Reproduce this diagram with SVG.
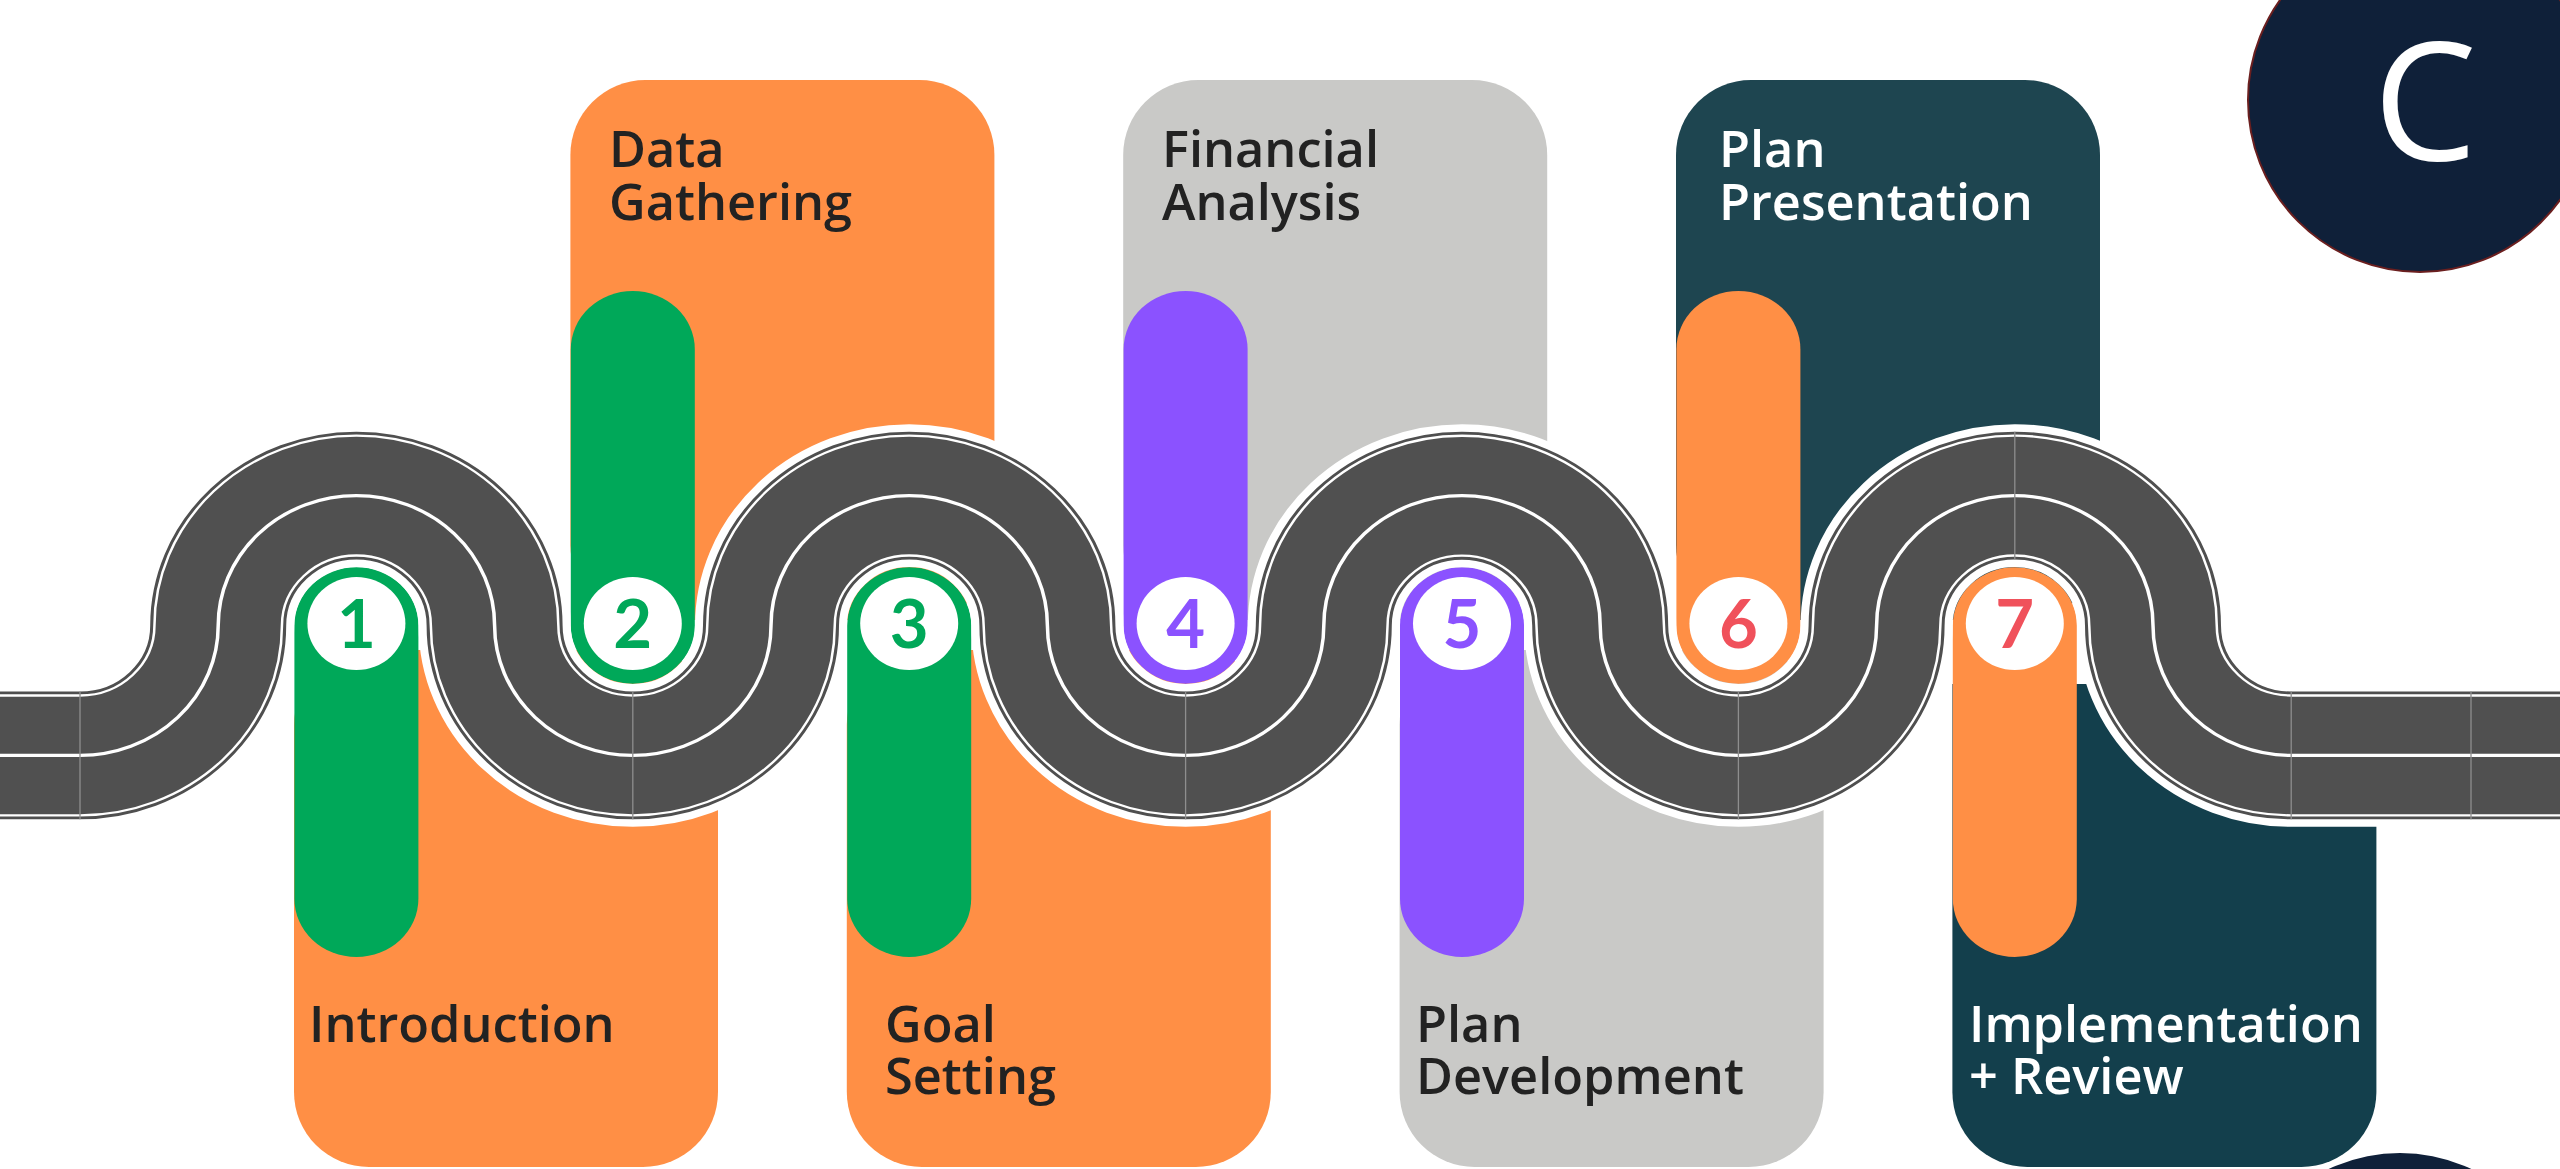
<svg xmlns="http://www.w3.org/2000/svg" width="2560" height="1169" viewBox="0 0 2560 1169">
  <defs>
    <style>
      .orange { fill: #FF8F45; }
      .grey { fill: #C9C9C7; }
      .tealTop { fill: #1E4550; }
      .tealBot { fill: #133F4C; }
      .green { fill: #00A859; }
      .purple { fill: #8B52FF; }
      .disc { fill: #FFFFFF; }
      .num { font-family: Lato, "Open Sans", "DejaVu Sans", sans-serif; font-weight: 700; font-size: 67px; text-anchor: middle; }
      .numGreen { fill: #00A859; }
      .numPurple { fill: #8B52FF; }
      .numRed { fill: #F0515B; }
      .label { font-family: "Open Sans", "Liberation Sans", sans-serif; font-weight: 600; font-size: 50.5px; fill: #222222; }
      .labelLight { fill: #FFFFFF; }
      .logo { fill: #0F2039; stroke: #6B1F1F; stroke-width: 2; }
      .road { fill: none; }
      .seam { stroke: #8E8E8E; stroke-width: 1.3; }
    </style>
    <!-- centre line of the winding road (arc centres on y=625.5, radius 138.2) -->
    <path id="roadLine" d="M -20 763.7 L 80 763.7 A 138.2 138.2 0 0 0 218.2 625.5 A 138.2 138.2 0 0 1 494.6 625.5 A 138.2 138.2 0 0 0 771 625.5 A 138.2 138.2 0 0 1 1047.4 625.5 A 138.2 138.2 0 0 0 1323.8 625.5 A 138.2 138.2 0 0 1 1600.2 625.5 A 138.2 138.2 0 0 0 1876.6 625.5 A 138.2 138.2 0 0 1 2153 625.5 A 138.2 138.2 0 0 0 2291.2 763.7 L 2580 763.7"/>
  </defs>

  <rect width="2560" height="1169" fill="#FFFFFF"/>

  <!-- steps: card, marker pill, number disc and caption -->
  <g id="step-1">
    <rect class="orange" x="294" y="650" width="424" height="517" rx="75" ry="75"/>
    <rect class="green" x="294.4" y="567.2" width="124" height="389.8" rx="62" ry="58.3"/>
    <ellipse class="disc" cx="356.4" cy="623.5" rx="49" ry="46.5"/>
    <text class="num numGreen" x="356.4" y="647.5">1</text>
    <text class="label" x="309" y="1042">Introduction</text>
  </g>

  <g id="step-2">
    <rect class="orange" x="570.4" y="80" width="424" height="540" rx="75" ry="75"/>
    <rect class="green" x="570.8" y="291" width="124" height="392.8" rx="62" ry="58.3"/>
    <ellipse class="disc" cx="632.8" cy="623.5" rx="49" ry="46.5"/>
    <text class="num numGreen" x="632.8" y="647.5">2</text>
    <text class="label" x="609" y="166.5">Data</text>
    <text class="label" x="609" y="220">Gathering</text>
  </g>

  <g id="step-3">
    <rect class="orange" x="846.8" y="650" width="424" height="517" rx="75" ry="75"/>
    <rect class="green" x="847.2" y="567.2" width="124" height="389.8" rx="62" ry="58.3"/>
    <ellipse class="disc" cx="909.2" cy="623.5" rx="49" ry="46.5"/>
    <text class="num numGreen" x="909.2" y="647.5">3</text>
    <text class="label" x="885" y="1042">Goal</text>
    <text class="label" x="885" y="1094">Setting</text>
  </g>

  <g id="step-4">
    <rect class="grey" x="1123.2" y="80" width="424" height="540" rx="75" ry="75"/>
    <rect class="purple" x="1123.6" y="291" width="124" height="392.8" rx="62" ry="58.3"/>
    <ellipse class="disc" cx="1185.6" cy="623.5" rx="49" ry="46.5"/>
    <text class="num numPurple" x="1185.6" y="647.5">4</text>
    <text class="label" x="1162" y="166.5">Financial</text>
    <text class="label" x="1162" y="220">Analysis</text>
  </g>

  <g id="step-5">
    <rect class="grey" x="1399.6" y="650" width="424" height="517" rx="75" ry="75"/>
    <rect class="purple" x="1400" y="567.2" width="124" height="389.8" rx="62" ry="58.3"/>
    <ellipse class="disc" cx="1462" cy="623.5" rx="49" ry="46.5"/>
    <text class="num numPurple" x="1462" y="647.5">5</text>
    <text class="label" x="1416" y="1042">Plan</text>
    <text class="label" x="1416" y="1094">Development</text>
  </g>

  <g id="step-6">
    <rect class="tealTop" x="1676" y="80" width="424" height="540" rx="75" ry="75"/>
    <rect class="orange" x="1676.4" y="291" width="124" height="392.8" rx="62" ry="58.3"/>
    <ellipse class="disc" cx="1738.4" cy="623.5" rx="49" ry="46.5"/>
    <text class="num numRed" x="1738.4" y="647.5">6</text>
    <text class="label labelLight" x="1719" y="166.5">Plan</text>
    <text class="label labelLight" x="1719" y="220">Presentation</text>
  </g>

  <g id="step-7">
    <!-- square top edge, tucked under the road; rounded bottom corners -->
    <path class="tealBot" d="M 1952.4 684 L 2376.4 684 L 2376.4 1092 A 75 75 0 0 1 2301.4 1167 L 2027.4 1167 A 75 75 0 0 1 1952.4 1092 Z"/>
    <rect class="orange" x="1952.8" y="567.2" width="124" height="389.8" rx="62" ry="58.3"/>
    <ellipse class="disc" cx="2014.8" cy="623.5" rx="49" ry="46.5"/>
    <text class="num numRed" x="2014.8" y="647.5">7</text>
    <text class="label labelLight" x="1969" y="1042">Implementation</text>
    <text class="label labelLight" x="1969" y="1094">+ Review</text>
  </g>

  <!-- the road joining the steps, drawn slightly flattened vertically -->
  <g id="road" transform="matrix(1 0 0 0.94 0 37.53)">
    <use href="#roadLine" class="road" stroke="#FFFFFF" stroke-width="152"/>
    <use href="#roadLine" class="road" stroke="#4F4F4F" stroke-width="136"/>
    <use href="#roadLine" class="road" stroke="#FFFFFF" stroke-width="130"/>
    <use href="#roadLine" class="road" stroke="#505050" stroke-width="125"/>
    <use href="#roadLine" class="road" stroke="#FFFFFF" stroke-width="3.5"/>
    <!-- tile seams across the asphalt -->
    <g class="seam">
      <line x1="80" y1="695.7" x2="80" y2="831.7"/>
      <line x1="632.8" y1="695.7" x2="632.8" y2="831.7"/>
      <line x1="1185.6" y1="695.7" x2="1185.6" y2="831.7"/>
      <line x1="1738.4" y1="695.7" x2="1738.4" y2="831.7"/>
      <line x1="2014.8" y1="419.3" x2="2014.8" y2="555.3"/>
      <line x1="2291.2" y1="695.7" x2="2291.2" y2="831.7"/>
      <line x1="2471" y1="695.7" x2="2471" y2="831.7"/>
    </g>
  </g>

  <!-- brand badges -->
  <g id="badge-top">
    <circle class="logo" cx="2420" cy="100" r="172"/>
    <text x="2373" y="160" font-family="'Open Sans', 'Liberation Sans', sans-serif" font-size="165" fill="#FFFFFF">C</text>
  </g>
  <g id="badge-bottom">
    <circle cx="2400" cy="1320" r="167" fill="#0F2039"/>
  </g>
</svg>
